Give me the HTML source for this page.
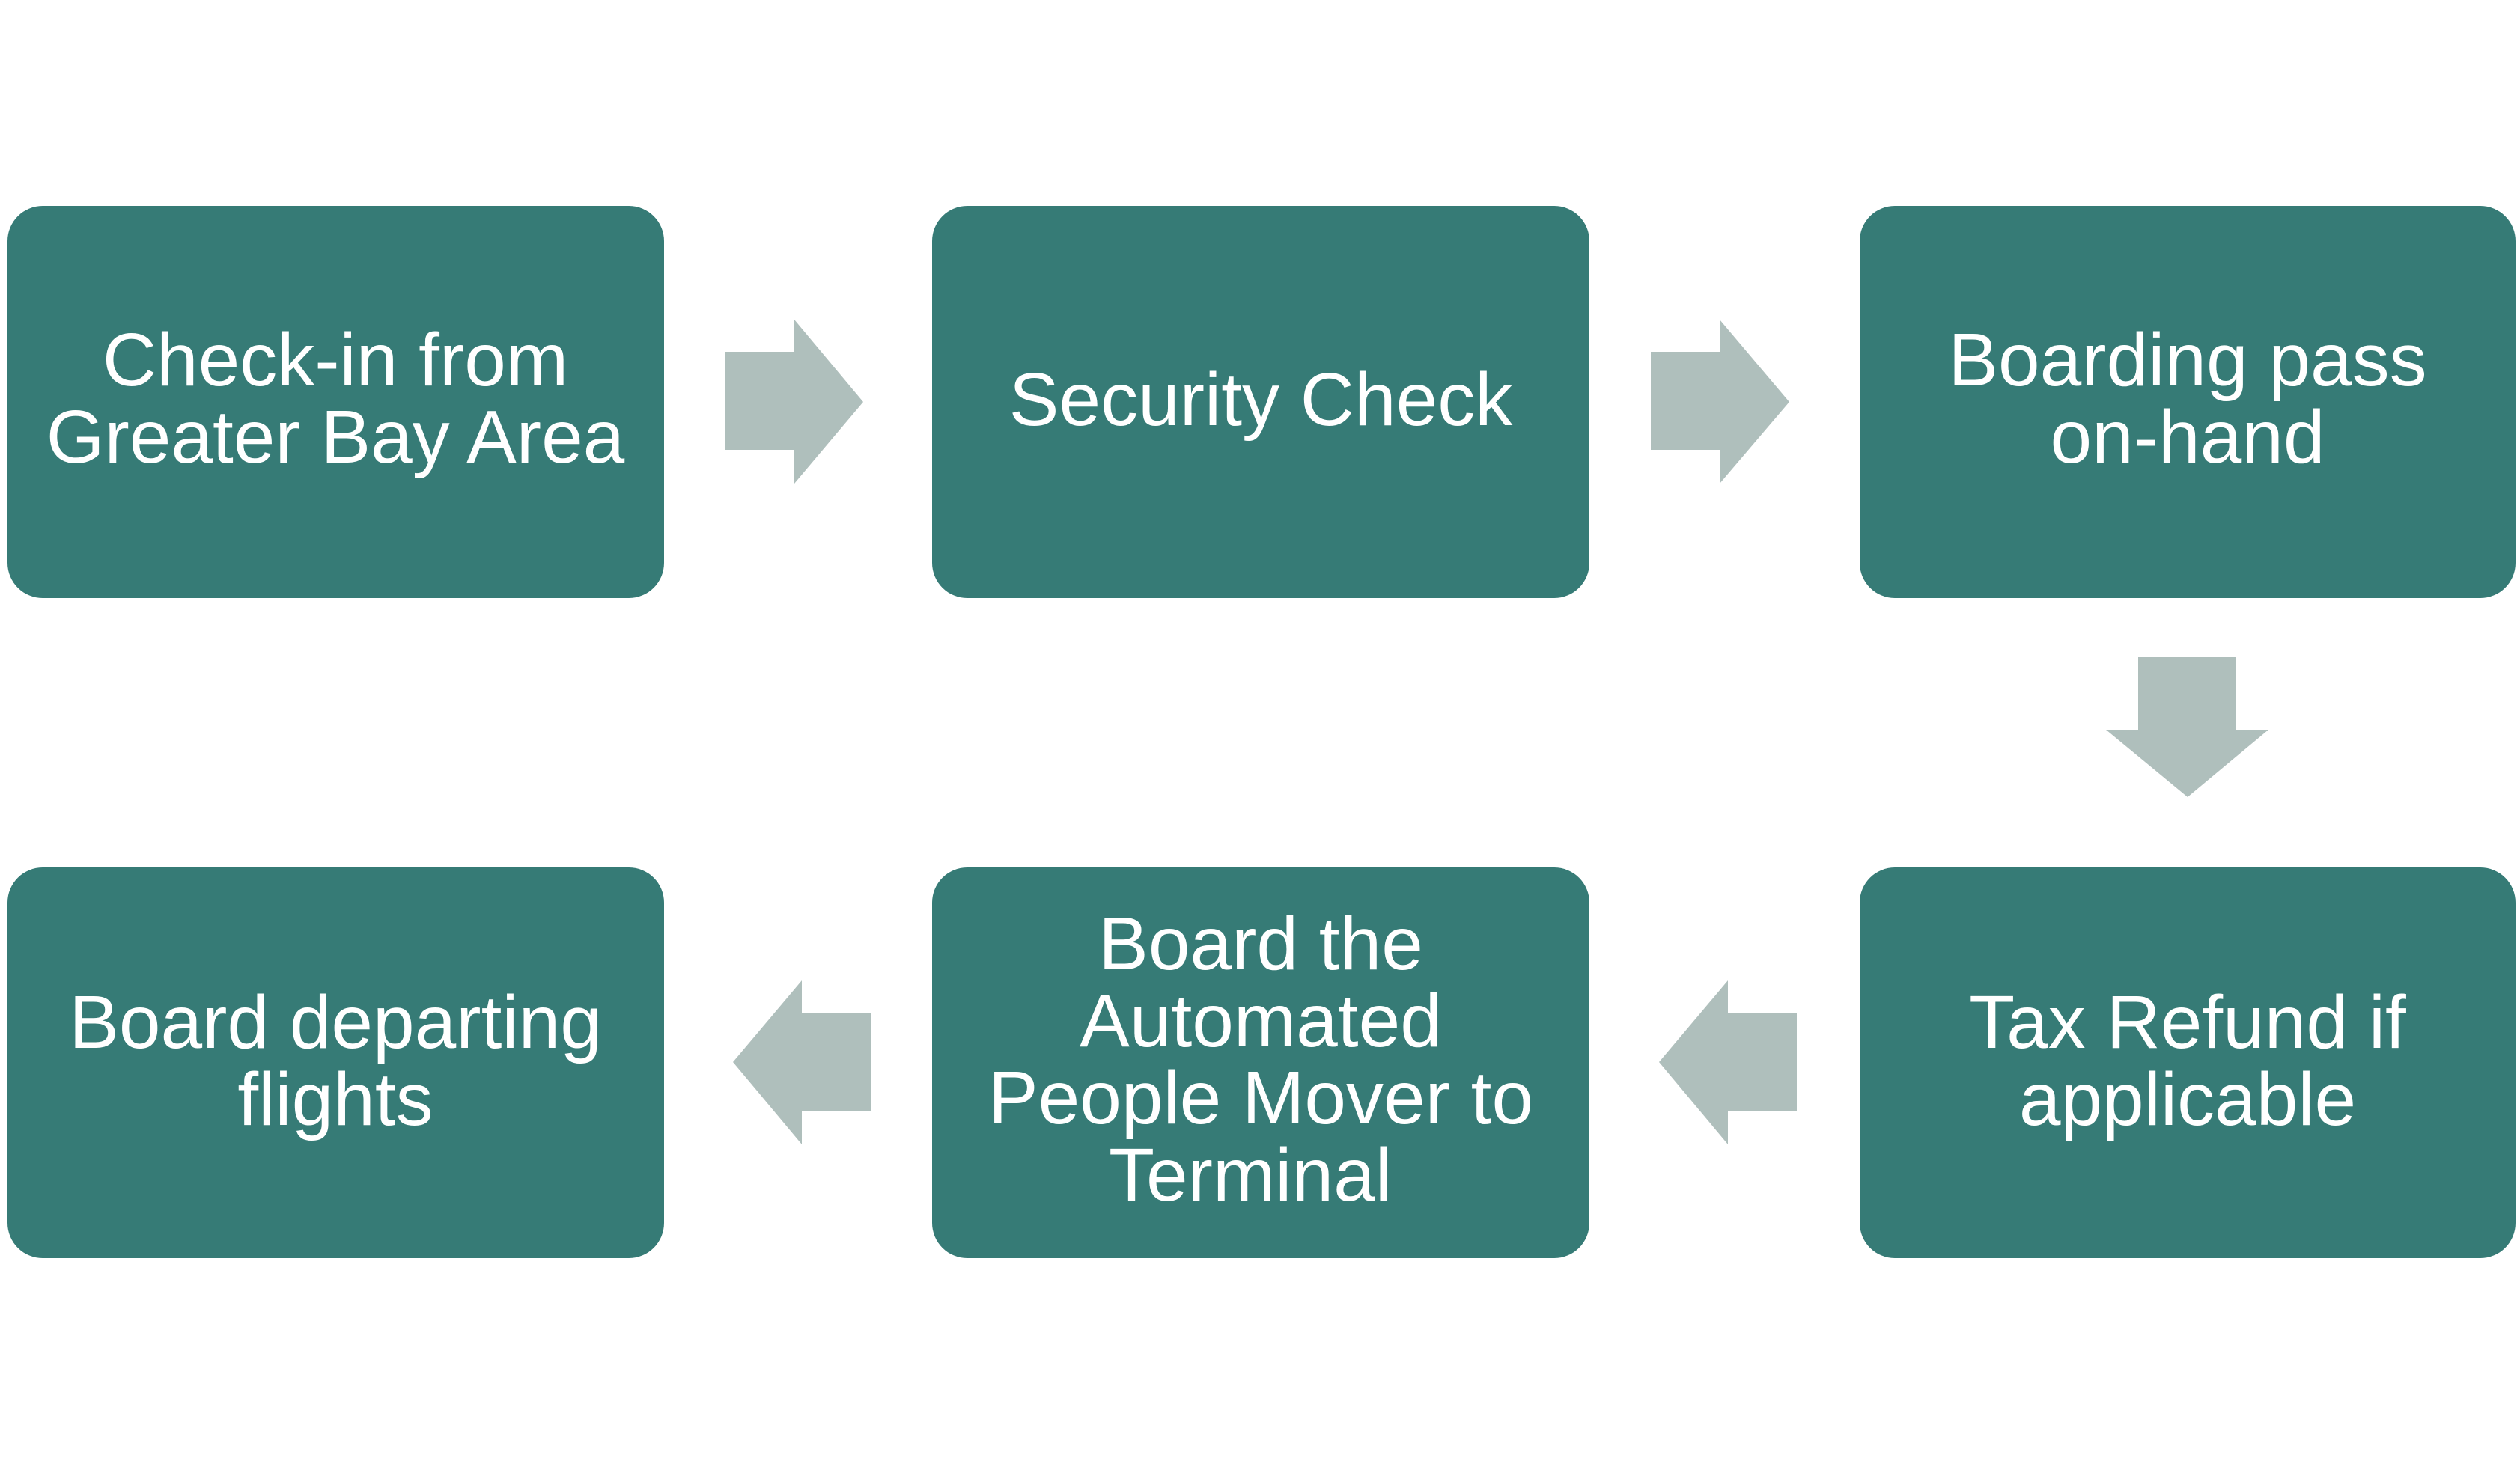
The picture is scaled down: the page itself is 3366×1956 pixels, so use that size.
<!DOCTYPE html>
<html><head><style>html,body{margin:0;padding:0;background:#fff;}svg{display:block}</style></head>
<body>
<svg width="3366" height="1956" viewBox="0 0 3366 1956" xmlns="http://www.w3.org/2000/svg">
<g fill="#367B76">
<rect x="10" y="275" width="877" height="524" rx="47"/>
<rect x="1245" y="275" width="878" height="524" rx="47"/>
<rect x="2484" y="275" width="876" height="524" rx="47"/>
<rect x="10" y="1159" width="877" height="522" rx="47"/>
<rect x="1245" y="1159" width="878" height="522" rx="47"/>
<rect x="2484" y="1159" width="876" height="522" rx="47"/>
</g>
<g fill="#AFBFBC">
<polygon points="968,470 1061,470 1061,427 1153,537 1061,646 1061,601 968,601"/>
<polygon points="2205,470 2297,470 2297,427 2390,537 2297,646 2297,601 2205,601"/>
<polygon points="2856,878 2987,878 2987,975 3030,975 2922,1065 2813,975 2856,975"/>
<polygon points="1164,1353 1071,1353 1071,1310 979,1419 1071,1529 1071,1484 1164,1484"/>
<polygon points="2400,1353 2308,1353 2308,1310 2216,1419 2308,1529 2308,1484 2400,1484"/>
</g>
<g fill="#fff" font-family="Liberation Sans, sans-serif" font-size="100" text-anchor="middle">
<text x="448" y="515">Check-in from</text>
<text x="448" y="618">Greater Bay Area</text>
<text x="1684" y="568">Security Check</text>
<text x="2922" y="515">Boarding pass</text>
<text x="2922" y="618">on-hand</text>
<text x="448" y="1400">Board departing</text>
<text x="448" y="1503">flights</text>
<text x="1684" y="1295">Board the</text>
<text x="1684" y="1398">Automated</text>
<text x="1684" y="1501">People Mover to</text>
<text x="1670" y="1604">Terminal</text>
<text x="2922" y="1400">Tax Refund if</text>
<text x="2922" y="1503">applicable</text>
</g>
</svg>
</body></html>
